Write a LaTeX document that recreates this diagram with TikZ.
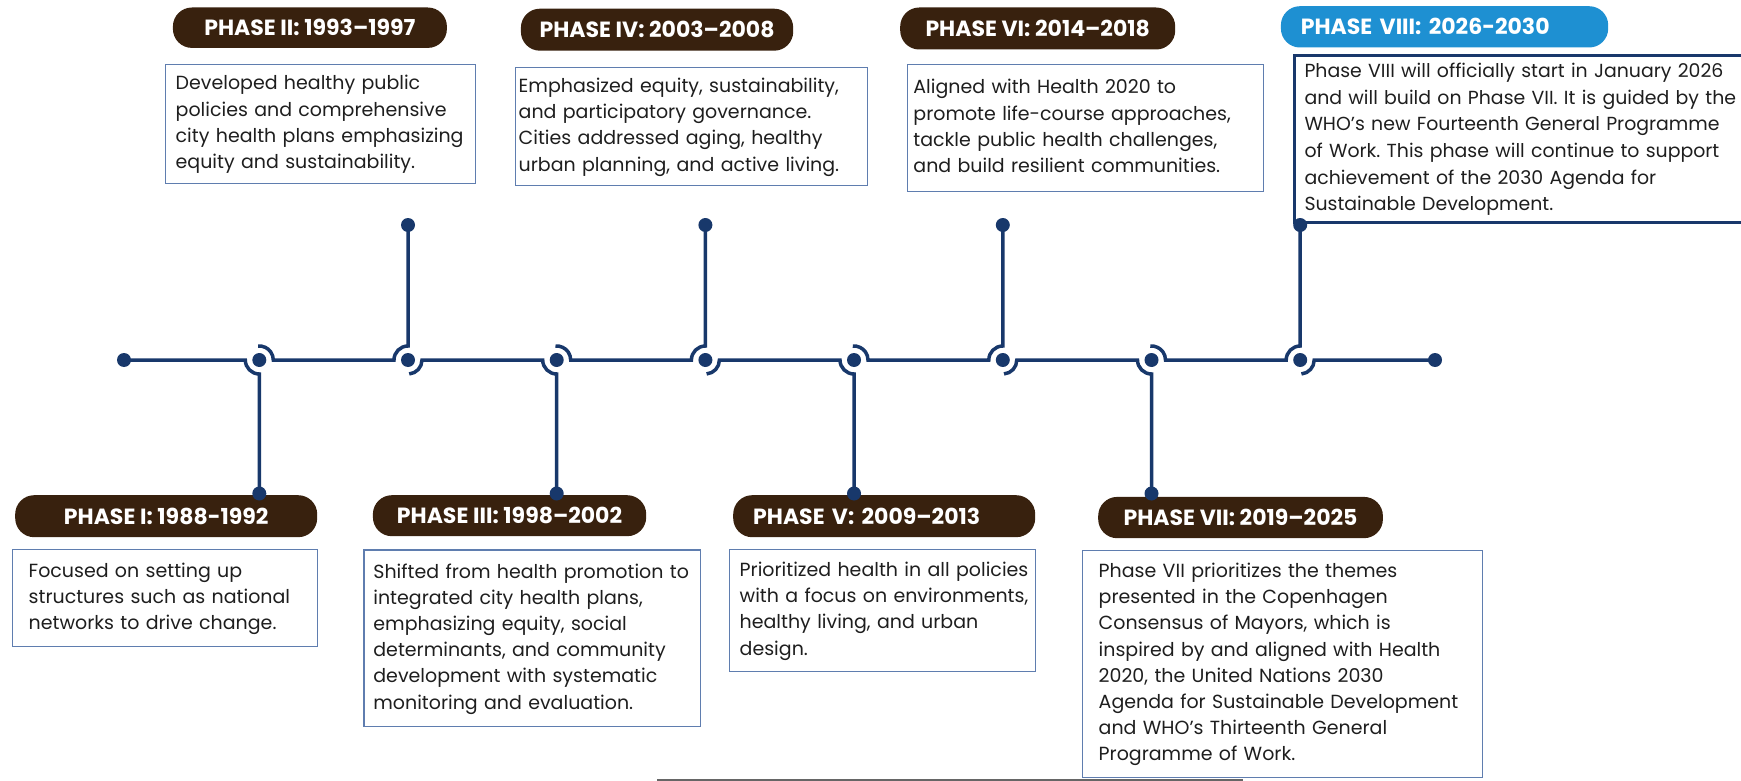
\documentclass[tikz,border=0pt]{standalone}
\usepackage{fontspec}
\setmainfont{Poppins}
\frenchspacing
\definecolor{navy}{RGB}{24,56,107}
\definecolor{brownd}{RGB}{56,33,14}
\definecolor{pillblue}{RGB}{30,144,210}
\definecolor{bordc}{RGB}{95,125,175}
\definecolor{txt}{RGB}{30,30,30}
\begin{document}
\begin{tikzpicture}[x=1pt,y=1pt,
  tl/.style={line width=3.5pt, draw=navy},
  dot/.style={circle, fill=navy, inner sep=0pt, minimum size=14pt},
  pill/.style={rounded corners=19pt, fill=brownd, text=white, font=\fontsize{22}{26}\selectfont\bfseries, minimum height=42pt, inner sep=0pt, anchor=north west},
  box/.style={draw=bordc, line width=1.4pt, anchor=north west, align=left, font=\fontsize{19}{26.2}\selectfont, text=txt, inner ysep=0pt},
]
\useasboundingbox (0,0) rectangle (1741,-781);
% timeline coordinates
\coordinate (e0) at (124,-360);
\coordinate (j1) at (259.3,-360);
\coordinate (j2) at (408,-360);
\coordinate (j3) at (556.7,-360);
\coordinate (j4) at (705.4,-360);
\coordinate (j5) at (854,-360);
\coordinate (j6) at (1002.8,-360);
\coordinate (j7) at (1151.5,-360);
\coordinate (j8) at (1300.2,-360);
\coordinate (e9) at (1435,-360);
\coordinate (d1) at (259.3,-493.5);
\coordinate (d2) at (408,-225);
\coordinate (d3) at (556.7,-493.5);
\coordinate (d4) at (705.4,-225);
\coordinate (d5) at (854,-493.5);
\coordinate (d6) at (1002.8,-225);
\coordinate (d7) at (1151.5,-493.5);
\coordinate (d8) at (1300.2,-225);
% timeline
\draw[tl] (e0) -- ([xshift=-14pt]j1) arc[start angle=180,end angle=270,radius=14pt] -- (d1);
\draw[tl] ([shift={(95:14pt)}]j1) arc[start angle=95,end angle=0,radius=14pt] -- ([xshift=-14pt]j2) arc[start angle=180,end angle=90,radius=14pt] -- (d2);
\draw[tl] ([shift={(-85:14pt)}]j2) arc[start angle=-85,end angle=0,radius=14pt] -- ([xshift=-14pt]j3) arc[start angle=180,end angle=270,radius=14pt] -- (d3);
\draw[tl] ([shift={(95:14pt)}]j3) arc[start angle=95,end angle=0,radius=14pt] -- ([xshift=-14pt]j4) arc[start angle=180,end angle=90,radius=14pt] -- (d4);
\draw[tl] ([shift={(-85:14pt)}]j4) arc[start angle=-85,end angle=0,radius=14pt] -- ([xshift=-14pt]j5) arc[start angle=180,end angle=270,radius=14pt] -- (d5);
\draw[tl] ([shift={(95:14pt)}]j5) arc[start angle=95,end angle=0,radius=14pt] -- ([xshift=-14pt]j6) arc[start angle=180,end angle=90,radius=14pt] -- (d6);
\draw[tl] ([shift={(-85:14pt)}]j6) arc[start angle=-85,end angle=0,radius=14pt] -- ([xshift=-14pt]j7) arc[start angle=180,end angle=270,radius=14pt] -- (d7);
\draw[tl] ([shift={(95:14pt)}]j7) arc[start angle=95,end angle=0,radius=14pt] -- ([xshift=-14pt]j8) arc[start angle=180,end angle=90,radius=14pt] -- (d8);
\draw[tl] ([shift={(-85:14pt)}]j8) arc[start angle=-85,end angle=0,radius=14pt] -- (e9);
% bottom rule
\coordinate (g1) at (657,-780);
\coordinate (g2) at (1243,-780);
\draw[line width=2.5pt, draw=black!60] (g1) -- (g2);
% boxes
\node[box, fill=white, minimum width=305pt, minimum height=97pt, text width=272.4pt, inner xsep=16.3pt] (b1) at (11.7,-549)
 {\begin{tabular}{@{}l@{}}Focused on setting up\\ structures such as national\\ networks to drive change.\end{tabular}};
\node[box, minimum width=310pt, minimum height=118.7pt, text width=290pt, inner xsep=10pt] (b2) at (165,-64)
 {\begin{tabular}{@{}l@{}}Developed healthy public\\ policies and comprehensive\\ city health plans emphasizing\\ equity and sustainability.\end{tabular}};
\node[box, minimum width=336.7pt, minimum height=176.7pt, text width=317.9pt, inner xsep=9.4pt] (b3) at (363.3,-549.3)
 {\begin{tabular}{@{}l@{}}Shifted from health promotion to\\ integrated city health plans,\\ emphasizing equity, social\\ determinants, and community\\ development with systematic\\ monitoring and evaluation.\end{tabular}};
\node[box, minimum width=351.7pt, minimum height=118.3pt, text width=345.7pt, inner xsep=3pt] (b4) at (515,-66.7)
 {\begin{tabular}{@{}l@{}}Emphasized equity, sustainability,\\ and participatory governance.\\ Cities addressed aging, healthy\\ urban planning, and active living.\end{tabular}};
\node[box, minimum width=306pt, minimum height=121.7pt, text width=286pt, inner xsep=10pt] (b5) at (729,-549)
 {\begin{tabular}{@{}l@{}}Prioritized health in all policies\\ with a focus on environments,\\ healthy living, and urban\\ design.\end{tabular}};
\node[box, minimum width=356pt, minimum height=126.7pt, text width=344.6pt, inner xsep=5.7pt] (b6) at (907,-64)
 {\begin{tabular}{@{}l@{}}Aligned with Health 2020 to\\ promote life-course approaches,\\ tackle public health challenges,\\ and build resilient communities.\end{tabular}};
\node[box, minimum width=400pt, minimum height=226.7pt, text width=367.4pt, inner xsep=16.3pt] (b7) at (1081.7,-550)
 {\begin{tabular}{@{}l@{}}Phase VII prioritizes the themes\\ presented in the Copenhagen\\ Consensus of Mayors, which is\\ inspired by and aligned with Health\\ 2020, the United Nations 2030\\ Agenda for Sustainable Development\\ and WHO’s Thirteenth General\\ Programme of Work.\end{tabular}};
\node[box, draw=navy, line width=3pt, minimum width=455pt, minimum height=166.7pt, text width=435pt, inner xsep=10pt, font=\fontsize{18.9}{26.6}\selectfont] (b8) at (1293,-54)
 {\begin{tabular}{@{}l@{}}Phase VIII will officially start in January 2026\\ and will build on Phase VII. It is guided by the\\ WHO’s new Fourteenth General Programme\\ of Work. This phase will continue to support\\ achievement of the 2030 Agenda for\\ Sustainable Development.\end{tabular}};
% pills
\node[pill, minimum width=302pt] (p1) at (15,-495) {PHASE I: 1988-1992};
\node[pill, minimum width=274pt, minimum height=40.4pt] (p2) at (172.7,-7.3) {PHASE II: 1993–1997};
\node[pill, minimum width=273.3pt, minimum height=41pt] (p3) at (372.7,-495) {PHASE III: 1998–2002};
\node[pill, minimum width=272.3pt] (p4) at (520.7,-8.5) {PHASE IV: 2003–2008};
\node[pill, minimum width=302pt, text width=262pt, inner xsep=20pt, align=left] (p5) at (733,-495) {PHASE V: 2009–2013};
\node[pill, minimum width=275pt] (p6) at (900,-7.3) {PHASE VI: 2014–2018};
\node[pill, minimum width=284.7pt, minimum height=41.3pt] (p7) at (1098,-496.7) {PHASE VII: 2019–2025};
\node[pill, fill=pillblue, minimum width=327.3pt, minimum height=41.3pt, text width=287.3pt, inner xsep=20pt, align=left] (p8) at (1280.7,-6) {PHASE VIII: 2026-2030};
% dots
\foreach \n in {e0,j1,j2,j3,j4,j5,j6,j7,j8,e9,d1,d2,d3,d4,d5,d6,d7,d8}
  \node[dot] (D\n) at (\n) {};
\end{tikzpicture}
\end{document}
